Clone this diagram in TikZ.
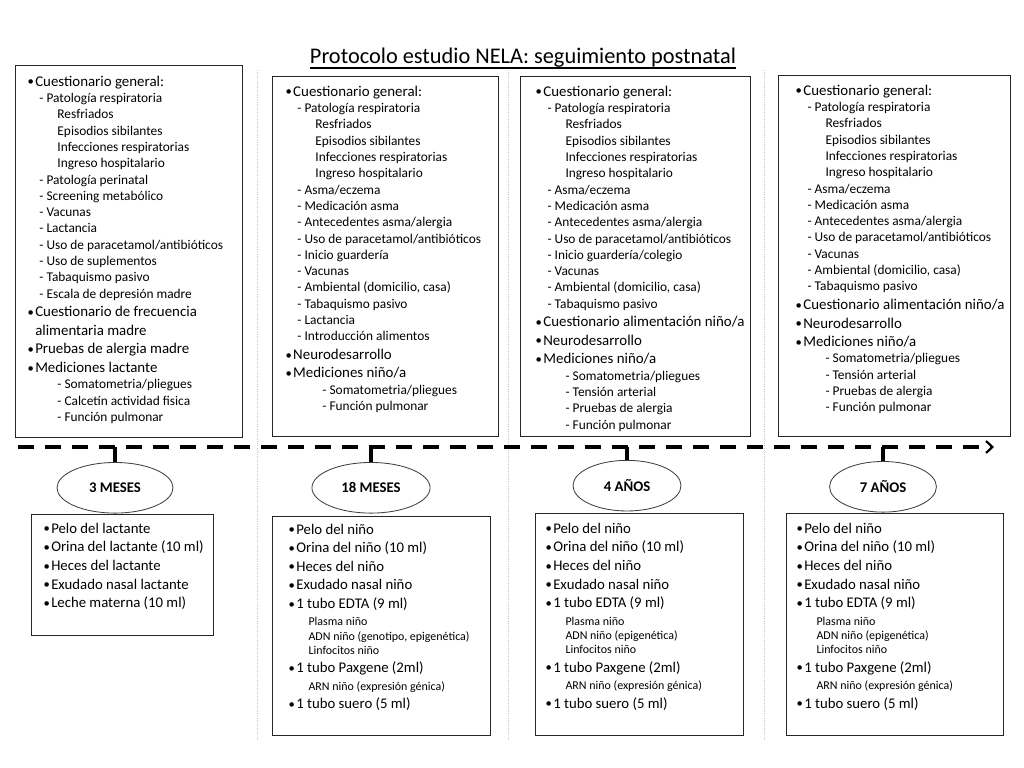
\documentclass[tikz,border=0pt]{standalone}
\usepackage{fontspec}
\setmainfont{Carlito}
\usepackage{tikz}
\usetikzlibrary{arrows.meta, positioning, shapes.geometric}

% one pixel of the slide
\newlength\pu
\setlength\pu{0.025cm}

% list lines
\newcommand{\dotb}{\makebox[5.5pt][l]{\raisebox{0.3pt}{\fontsize{9}{9}\selectfont\textbullet}}}
\newcommand{\Bq}[1]{{\fontsize{10.6}{13.2}\selectfont\dotb#1\par}}
\newcommand{\Dq}[2][8.5pt]{{\fontsize{9.5}{11.6}\selectfont\hspace*{#1}- #2\par}}
\newcommand{\Lq}[1]{{\fontsize{9.5}{11.6}\selectfont\hspace*{21.3pt}#1\par}}
\newcommand{\Bm}[1]{{\fontsize{10.5}{13.2}\selectfont\dotb#1\par}}
\newcommand{\Sm}[1]{\vspace{2.3pt}{\fontsize{8.5}{10.1}\selectfont\advance\leftskip 14.2pt #1\par}}
\newcommand{\panel}[5]{\begin{minipage}[t][#2\pu][t]{#1\pu}\vspace*{#3}\leftskip=#4\relax #5\end{minipage}}

\begin{document}
\begin{tikzpicture}[x=0.025cm, y=-0.025cm,
  panel/.style={draw=black!85, line width=0.8pt, anchor=north west, inner sep=0pt},
  age/.style={ellipse, draw=black!75, line width=0.6pt, inner sep=0pt,
              minimum height=36pt, font=\fontsize{10.5}{12}\selectfont\bfseries},
  timeline/.style={line width=2.8pt, dash pattern=on 11.4pt off 7.8pt,
                   -{Straight Barb[length=4.5pt, width=8.5pt, line width=1.6pt]}},
  tick/.style={line width=2.8pt},
  sep/.style={draw=black!22, line width=0.5pt, densely dotted},
]
  \useasboundingbox (0,0) rectangle (1024,768);

  \node[inner sep=0pt, anchor=base, font=\fontsize{15.9}{18}\selectfont] (ttl) at (523,64)
        {Protocolo estudio NELA: seguimiento postnatal};
  \draw[line width=1.3pt] ([yshift=-2.8pt]ttl.base west) -- ([yshift=-2.8pt]ttl.base east);

  % column separators
  \draw[sep] (257,70) -- (257,740);
  \draw[sep] (508,70) -- (508,740);
  \draw[sep] (764,70) -- (764,740);

  % questionnaires
  \node[panel] (q3m) at (15,65) {\panel{227}{372}{7.3pt}{8.5pt}{%
    \Bq{Cuestionario general:}
    \Dq{Patología respiratoria}
    \Lq{Resfriados}
    \Lq{Episodios sibilantes}
    \Lq{Infecciones respiratorias}
    \Lq{Ingreso hospitalario}
    \Dq{Patología perinatal}
    \Dq{Screening metabólico}
    \Dq{Vacunas}
    \Dq{Lactancia}
    \Dq{Uso de paracetamol/antibióticos}
    \Dq{Uso de suplementos}
    \Dq{Tabaquismo pasivo}
    \Dq{Escala de depresión madre}
    \Bq{Cuestionario de frecuencia\\\hspace*{5.5pt}alimentaria madre}
    \Bq{Pruebas de alergia madre}
    \Bq{Mediciones lactante}
    \Dq[21.3pt]{Somatometria/pliegues}
    \Dq[21.3pt]{Calcetín actividad fisica}
    \Dq[21.3pt]{Función pulmonar}}};

  \node[panel] (q18m) at (272,76) {\panel{226}{360}{6.6pt}{9.2pt}{%
    \Bq{Cuestionario general:}
    \Dq{Patología respiratoria}
    \Lq{Resfriados}
    \Lq{Episodios sibilantes}
    \Lq{Infecciones respiratorias}
    \Lq{Ingreso hospitalario}
    \Dq{Asma/eczema}
    \Dq{Medicación asma}
    \Dq{Antecedentes asma/alergia}
    \Dq{Uso de paracetamol/antibióticos}
    \Dq{Inicio guardería}
    \Dq{Vacunas}
    \Dq{Ambiental (domicilio, casa)}
    \Dq{Tabaquismo pasivo}
    \Dq{Lactancia}
    \Dq{Introducción alimentos}
    \Bq{Neurodesarrollo}
    \Bq{Mediciones niño/a}
    \Dq[26.3pt]{Somatometria/pliegues}
    \Dq[26.3pt]{Función pulmonar}}};

  \node[panel] (q4a) at (520,76) {\panel{230}{360}{6.6pt}{10.7pt}{%
    \Bq{Cuestionario general:}
    \Dq{Patología respiratoria}
    \Lq{Resfriados}
    \Lq{Episodios sibilantes}
    \Lq{Infecciones respiratorias}
    \Lq{Ingreso hospitalario}
    \Dq{Asma/eczema}
    \Dq{Medicación asma}
    \Dq{Antecedentes asma/alergia}
    \Dq{Uso de paracetamol/antibióticos}
    \Dq{Inicio guardería/colegio}
    \Dq{Vacunas}
    \Dq{Ambiental (domicilio, casa)}
    \Dq{Tabaquismo pasivo}
    \Bq{Cuestionario alimentación niño/a}
    \Bq{Neurodesarrollo}
    \Bq{Mediciones niño/a}
    \Dq[21.3pt]{Somatometria/pliegues}
    \Dq[21.3pt]{Tensión arterial}
    \Dq[21.3pt]{Pruebas de alergia}
    \Dq[21.3pt]{Función pulmonar}}};

  \node[panel] (q7a) at (778,75) {\panel{232}{361}{6.6pt}{12.1pt}{%
    \Bq{Cuestionario general:}
    \Dq{Patología respiratoria}
    \Lq{Resfriados}
    \Lq{Episodios sibilantes}
    \Lq{Infecciones respiratorias}
    \Lq{Ingreso hospitalario}
    \Dq{Asma/eczema}
    \Dq{Medicación asma}
    \Dq{Antecedentes asma/alergia}
    \Dq{Uso de paracetamol/antibióticos}
    \Dq{Vacunas}
    \Dq{Ambiental (domicilio, casa)}
    \Dq{Tabaquismo pasivo}
    \Bq{Cuestionario alimentación niño/a}
    \Bq{Neurodesarrollo}
    \Bq{Mediciones niño/a}
    \Dq[21.3pt]{Somatometria/pliegues}
    \Dq[21.3pt]{Tensión arterial}
    \Dq[21.3pt]{Pruebas de alergia}
    \Dq[21.3pt]{Función pulmonar}}};

  % time line
  \coordinate (tl0) at (18,447);
  \coordinate (tl1) at (994,447);
  \draw[timeline] (tl0) -- (tl1);

  \coordinate (t1) at (115,447);
  \coordinate (t2) at (371,447);
  \coordinate (t3) at (627,447);
  \coordinate (t4) at (883,447);

  \node[age, minimum width=82.5pt, below=10.7pt of t1] (m3)  {3 MESES};
  \node[age, minimum width=84pt,   below=10.7pt of t2] (m18) {18 MESES};
  \node[age, minimum width=76.8pt, below=9.2pt of t3]  (a4)  {4 AÑOS};
  \node[age, minimum width=76pt,   below=10pt of t4]   (a7)  {7 AÑOS};

  \draw[tick] (t1) -- (m3.north);
  \draw[tick] (t2) -- (m18.north);
  \draw[tick] (t3) -- (a4.north);
  \draw[tick] (t4) -- (a7.north);

  % samples
  \node[panel] (s3m) at (31,514) {\panel{182}{121}{6.1pt}{8.5pt}{%
    \Bm{Pelo del lactante}
    \Bm{Orina del lactante (10 ml)}
    \Bm{Heces del lactante}
    \Bm{Exudado nasal lactante}
    \Bm{Leche materna (10 ml)}}};

  \node[panel] (s18m) at (272,516) {\panel{218}{219}{5.3pt}{11.4pt}{%
    \Bm{Pelo del niño}
    \Bm{Orina del niño (10 ml)}
    \Bm{Heces del niño}
    \Bm{Exudado nasal niño}
    \Bm{1 tubo EDTA (9 ml)}
    \Sm{Plasma niño\\ADN niño (genotipo, epigenética)\\Linfocitos niño}
    \Bm{1 tubo Paxgene (2ml)}
    \Sm{ARN niño (expresión génica)}
    \Bm{1 tubo suero (5 ml)}}};

  \node[panel] (s4a) at (535,513) {\panel{208}{222}{6.8pt}{7.1pt}{%
    \Bm{Pelo del niño}
    \Bm{Orina del niño (10 ml)}
    \Bm{Heces del niño}
    \Bm{Exudado nasal niño}
    \Bm{1 tubo EDTA (9 ml)}
    \Sm{Plasma niño\\ADN niño (epigenética)\\Linfocitos niño}
    \Bm{1 tubo Paxgene (2ml)}
    \Sm{ARN niño (expresión génica)}
    \Bm{1 tubo suero (5 ml)}}};

  \node[panel] (s7a) at (786,513) {\panel{217}{222}{6.8pt}{7.1pt}{%
    \Bm{Pelo del niño}
    \Bm{Orina del niño (10 ml)}
    \Bm{Heces del niño}
    \Bm{Exudado nasal niño}
    \Bm{1 tubo EDTA (9 ml)}
    \Sm{Plasma niño\\ADN niño (epigenética)\\Linfocitos niño}
    \Bm{1 tubo Paxgene (2ml)}
    \Sm{ARN niño (expresión génica)}
    \Bm{1 tubo suero (5 ml)}}};
\end{tikzpicture}
\end{document}
